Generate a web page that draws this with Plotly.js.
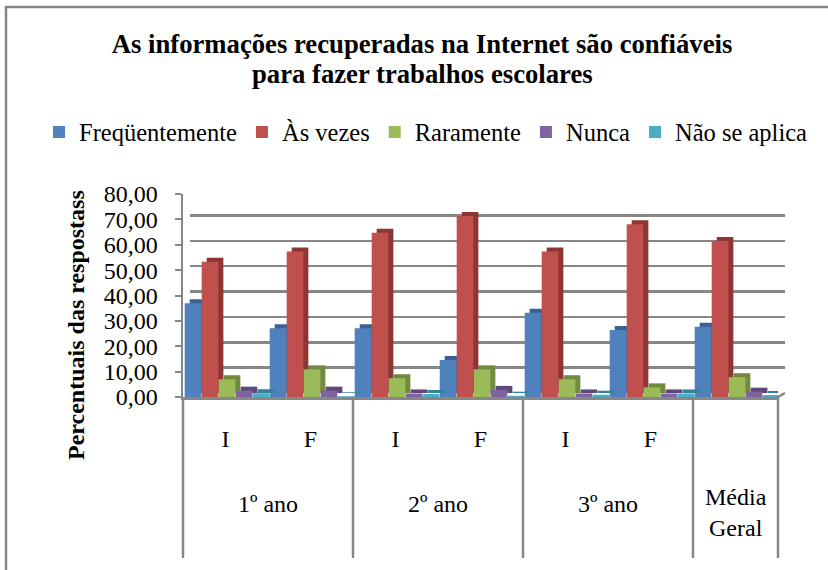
<!DOCTYPE html>
<html><head><meta charset="utf-8">
<script src="https://cdn.plot.ly/plotly-3.0.1.min.js"></script>
<style>html,body{margin:0;padding:0;background:#fff}#chart{width:828px;height:570px}</style>
</head><body><div id="chart"></div>
<script>
// ---- data ----
const groups = ["1º ano","1º ano","2º ano","2º ano","3º ano","3º ano","Média Geral"];
const subs = ["I","F","I","F","I","F",""];
const seriesNames = ["Freqüentemente","Às vezes","Raramente","Nunca","Não se aplica"];
const freq        = [36.9, 27.1, 27.1, 14.6, 33.2, 26.4, 27.7];
const asVezes     = [53.3, 57.3, 64.7, 71.3, 57.3, 68.1, 61.5];
const raramente   = [7.0, 10.9, 7.4, 10.9, 7.0, 3.8, 7.8];
const nunca       = [2.5, 2.5, 1.4, 2.8, 1.4, 1.4, 2.1];
const naoSeAplica = [1.5, 0.3, 1.2, 0.5, 0.9, 1.4, 0.8];
const titleLine1 = "As informações recuperadas na Internet são confiáveis";
const titleLine2 = "para fazer trabalhos escolares";
const yTitle = "Percentuais das respostass";

// ---- styles ----
const colors = ["#4F81BD","#C0504D","#9BBB59","#8064A2","#4BACC6"];
const dark   = ["#3A6194","#8E3634","#728A40","#5D4879","#35819A"];
const FONT = "Liberation Serif";
const GRID = "#878787";
const W = 828, H = 570, L = 183, R = 43, T = 190, B = 173;
const PW = W - L - R, PH = H - T - B;
const fx = px => (px - L) / PW;
const fy = py => (H - B - py) / PH;

const cats = groups.map((g, i) => g + "|" + subs[i]);
const series = [freq, asVezes, raramente, nunca, naoSeAplica];
const N = cats.length, S = series.length;
const slot = 1 / S;
const wFront = slot * 0.98;
const depthX = 5 / (595 / N);
const depthY = 4 * 80 / 203;

const traces = [{type: "scatter", x: [], y: [], xaxis: "x", yaxis: "y", showlegend: false, hoverinfo: "skip"}];
series.forEach((vals, s) => {
  const off = -0.5 + s * slot + 0.02;
  traces.push({
    type: "bar", x: cats, y: vals, base: depthY, xaxis: "x2", yaxis: "y2",
    width: wFront, offset: off + depthX,
    marker: {color: dark[s], line: {width: 0}},
    showlegend: false, hoverinfo: "skip"
  });
  traces.push({
    type: "bar", x: cats, y: vals, name: seriesNames[s], xaxis: "x2", yaxis: "y2",
    width: wFront, offset: off,
    marker: {color: colors[s], line: {width: 0}}
  });
});

const annotations = [];
const edges = [0];
let start = 0;
for (let i = 1; i <= N; i++) {
  if (i === N || groups[i] !== groups[start]) {
    const g = groups[start];
    const multi = g === "Média Geral";
    annotations.push({
      xref: "x2", yref: "paper", x: (start + i - 1) / 2, y: fy(multi ? 512 : 504),
      text: multi ? g.replace(" ", "<br>") : g, showarrow: false,
      font: {family: FONT, size: 24, color: "#000"}, xanchor: "center", yanchor: "middle"
    });
    edges.push(i);
    start = i;
  }
}
annotations.push({
  xref: "paper", yref: "paper", x: fx(76), y: fy(325), text: "<b>" + yTitle + "</b>",
  textangle: -90, showarrow: false, font: {family: FONT, size: 24, color: "#000"},
  xanchor: "center", yanchor: "middle"
});
annotations.push({
  xref: "paper", yref: "paper", x: fx(422), y: fy(74), text: "<b>" + titleLine2 + "</b>",
  showarrow: false, font: {family: FONT, size: 26.7, color: "#000"},
  xanchor: "center", yanchor: "middle"
});

const shapes = edges.map(e => ({
  type: "line", xref: "x2 domain", yref: "paper", x0: e / N, x1: e / N, y0: fy(397), y1: fy(558),
  line: {color: GRID, width: 2.5}
}));
shapes.push({
  type: "rect", xref: "paper", yref: "paper", x0: fx(6), x1: fx(900), y0: fy(700), y1: fy(7),
  line: {color: GRID, width: 2.5}, fillcolor: "rgba(0,0,0,0)", layer: "below"
});
shapes.push({
  type: "line", xref: "paper", yref: "paper", x0: fx(778), y0: fy(397), x1: fx(785), y1: fy(393),
  line: {color: GRID, width: 2.5}
});

const layout = {
  width: W, height: H, margin: {l: L, r: R, t: T, b: B},
  paper_bgcolor: "#fff", plot_bgcolor: "rgba(0,0,0,0)",
  barmode: "overlay", separators: ",.",
  font: {family: FONT, color: "#000", size: 24},
  title: {text: "<b>" + titleLine1 + "</b>", font: {family: FONT, size: 26.7, color: "#000"},
          xref: "container", yref: "container", x: 422 / W, xanchor: "center",
          y: 1 - 44 / H, yanchor: "middle"},
  showlegend: true,
  legend: {orientation: "h", x: fx(39), xanchor: "left", y: fy(132), yanchor: "middle",
           font: {family: FONT, size: 24.5, color: "#000"}, bgcolor: "rgba(0,0,0,0)", itemclick: false},
  xaxis: {domain: [fx(190), 1], range: [0, 1], visible: false, fixedrange: true},
  yaxis: {domain: [fy(393), 1], range: [0, 80], dtick: 10, showgrid: true, gridcolor: GRID, gridwidth: 2.5,
          zeroline: false, showticklabels: false, ticks: "", showline: false, fixedrange: true},
  xaxis2: {domain: [0, fx(778)], anchor: "y2", type: "category", categoryarray: cats, categoryorder: "array",
           range: [-0.5, N - 0.5], tickmode: "array", tickvals: cats, ticktext: subs, ticks: "",
           showline: true, linecolor: GRID, linewidth: 2.5, showgrid: false, zeroline: false,
           tickfont: {family: FONT, size: 24, color: "#000"}, ticklabelstandoff: 19, fixedrange: true},
  yaxis2: {domain: [0, fy(194)], anchor: "x2", range: [0, 80], dtick: 10, tickformat: ".2f",
           ticks: "outside", ticklen: 6, tickwidth: 2, tickcolor: GRID, showline: true, linecolor: GRID,
           linewidth: 2.5, showgrid: false, zeroline: false, ticklabelstandoff: 12,
           tickfont: {family: FONT, size: 24, color: "#000"}, fixedrange: true},
  annotations: annotations, shapes: shapes
};
Plotly.newPlot("chart", traces, layout, {displayModeBar: false, staticPlot: true});
</script>
</body></html>
